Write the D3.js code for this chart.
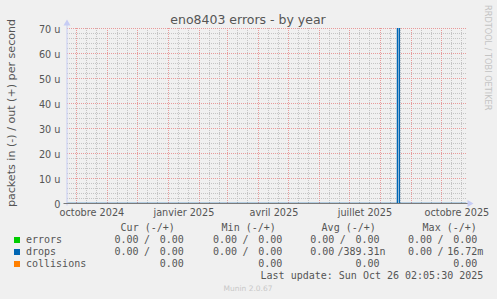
<!DOCTYPE html>
<html>
<head>
<meta charset="utf-8">
<script src="https://cdn.jsdelivr.net/npm/d3@7"></script>
<style>
  html, body { margin: 0; padding: 0; background: #f0f0f0; }
  svg { display: block; }
  text { font-family: "DejaVu Sans", sans-serif; fill: #555; }
  .mono { font-family: "DejaVu Sans Mono", monospace; font-size: 10px; white-space: pre; }
</style>
</head>
<body>
<script>
// ---------- data ----------
const title = "eno8403 errors - by year";
const yLabel = "packets in (-) / out (+) per second";
const endTime = "2025-10-26T02:05:30";
const spanDays = 400;

const yTicks = [0, 10e-6, 20e-6, 30e-6, 40e-6, 50e-6, 60e-6, 70e-6];
const xLabelMonths = ["2024-10-01", "2025-01-01", "2025-04-01", "2025-07-01", "2025-10-01"];
const xLabelTexts = ["octobre 2024", "janvier 2025", "avril 2025", "juillet 2025", "octobre 2025"];

// series samples (sparse: all other samples are zero)
const sampleDates   = ["2024-09-21", "2025-08-18", "2025-08-19", "2025-08-20", "2025-10-26"];
const errorsIn      = [0, 0, 0, 0, 0];
const errorsOut     = [0, 0, 0, 0, 0];
const dropsIn       = [0, 0, 0, 0, 0];
const dropsOut      = [0, 0, 16.72e-3, 0, 0];
const collisions    = [0, 0, 0, 0, 0];

const legendNames   = ["errors", "drops", "collisions"];
const legendColors  = ["#00cc00", "#0066b3", "#ff8000"];
const legendHeaders = ["Cur (-/+)", "Min (-/+)", "Avg (-/+)", "Max (-/+)"];
// [row][column] -> [in, out] ; collisions has a single value
const legendValues = [
  [["0.00", "0.00"], ["0.00", "0.00"], ["0.00", "0.00"], ["0.00", "0.00"]],
  [["0.00", "0.00"], ["0.00", "0.00"], ["0.00", "389.31n"], ["0.00", "16.72m"]],
  [[null, "0.00"], [null, "0.00"], [null, "0.00"], [null, "0.00"]]
];
const lastUpdate = "Last update: Sun Oct 26 02:05:30 2025";
const footer = "Munin 2.0.67";
const watermark = "RRDTOOL / TOBI OETIKER";

// ---------- layout ----------
const W = 497, H = 299;
const plotL = 66.5, plotR = 466.5, plotT = 28.5, plotB = 203.5;

const svg = d3.select("body").append("svg").attr("width", W).attr("height", H);
svg.append("rect").attr("width", W).attr("height", H).attr("fill", "#f0f0f0");

const parse = d3.timeParse("%Y-%m-%d");
const tEnd = d3.timeParse("%Y-%m-%dT%H:%M:%S")(endTime);
const tStart = d3.timeDay.offset(tEnd, -spanDays);

const x = d3.scaleTime().domain([tStart, tEnd]).range([plotL, plotR]);
const y = d3.scaleLinear().domain([0, 70e-6]).range([plotB, plotT]);
const crisp = v => Math.round(v - 0.5) + 0.5;

// ---------- grid ----------
const grid = svg.append("g").attr("shape-rendering", "crispEdges");
const minorCol = "#c4c4c4", majorCol = "#e89a9a";
const minorY = d3.range(0, 71, 2).map(v => v * 1e-6);
grid.selectAll(".hmin").data(minorY).join("line")
  .attr("x1", 67).attr("x2", 467)
  .attr("y1", d => crisp(y(d))).attr("y2", d => crisp(y(d)))
  .attr("stroke", minorCol).attr("stroke-dasharray", "1,1");
const months = d3.timeMonth.range(d3.timeMonth.floor(tStart), tEnd);
const minorX = [];
months.forEach(m => {
  [10, 20].forEach(o => { const d = d3.timeDay.offset(m, o); if (d > tStart && d < tEnd) minorX.push(d); });
});
grid.selectAll(".vmin").data(minorX).join("line")
  .attr("x1", d => crisp(x(d))).attr("x2", d => crisp(x(d)))
  .attr("y1", 28).attr("y2", 204)
  .attr("stroke", minorCol).attr("stroke-dasharray", "1,1");
grid.selectAll(".hmaj").data(yTicks).join("line")
  .attr("x1", 67).attr("x2", 467)
  .attr("y1", d => crisp(y(d))).attr("y2", d => crisp(y(d)))
  .attr("stroke", majorCol).attr("stroke-dasharray", "1,1");
const majorX = months.filter(d => d > tStart && d < tEnd);
grid.selectAll(".vmaj").data(majorX).join("line")
  .attr("x1", d => crisp(x(d))).attr("x2", d => crisp(x(d)))
  .attr("y1", 28).attr("y2", 204)
  .attr("stroke", majorCol).attr("stroke-dasharray", "1,1");

// ---------- series ----------
svg.append("defs").append("clipPath").attr("id", "clip")
  .append("rect").attr("x", plotL).attr("y", plotT - 0.5).attr("width", plotR - plotL).attr("height", plotB - plotT + 1);
const dates = sampleDates.map(parse);
// values far above the axis are cut (like rrdtool) a long way above the canvas
const line = d3.line().x(d => x(d[0])).y(d => Math.max(y(d[1]), -3000));
const seriesG = svg.append("g").attr("clip-path", "url(#clip)");
const seriesList = [
  [errorsIn.map(v => -v), legendColors[0], 1],
  [errorsOut, legendColors[0], 1],
  [dropsIn.map(v => -v), legendColors[1], 1],
  [collisions, legendColors[2], 1],
  [dropsOut, legendColors[1], 1.4]
];
seriesList.forEach(([vals, col, w]) => {
  seriesG.append("path")
    .attr("d", line(vals.map((v, i) => [dates[i], v])))
    .attr("fill", "none").attr("stroke", col).attr("stroke-width", w);
});

// ---------- axes ----------
const axisCol = "#c6ccf4";
svg.append("line").attr("x1", plotL + 0.5).attr("x2", plotL + 0.5).attr("y1", plotB + 2).attr("y2", plotT - 6)
  .attr("stroke", axisCol);
svg.append("path").attr("d", `M${plotL - 3},${plotT - 3} L${plotL + 4},${plotT - 3} L${plotL + 0.5},${plotT - 9} Z`)
  .attr("fill", axisCol);
svg.append("line").attr("x1", plotL - 3).attr("x2", plotR + 3).attr("y1", plotB).attr("y2", plotB)
  .attr("stroke", "#7a7a7a");
svg.append("path").attr("d", `M${plotR + 1},${plotB - 3.5} L${plotR + 1},${plotB + 3.5} L${plotR + 7},${plotB} Z`)
  .attr("fill", axisCol);

// y axis labels
const yAxis = d3.axisLeft(y).tickValues(yTicks).tickSize(0)
  .tickFormat(v => v === 0 ? "0" : `${Math.round(v * 1e6)} u`);
const yg = svg.append("g").attr("transform", `translate(${plotL},0)`).call(yAxis);
yg.select(".domain").remove();
yg.selectAll("text").attr("x", -6).attr("dy", "3.6")
  .style("font-family", "DejaVu Sans").style("font-size", "9.7px").attr("fill", "#555");

// x axis labels, centered half a month after the month start
const labelDates = xLabelMonths.map(s => d3.timeDay.offset(parse(s), 15));
const xAxis = d3.axisBottom(x).tickValues(labelDates).tickSize(0)
  .tickFormat((d, i) => xLabelTexts[i]);
const xg = svg.append("g").attr("transform", `translate(0,215.5)`).call(xAxis);
xg.select(".domain").remove();
xg.selectAll("text").attr("y", 0).attr("dy", 0)
  .style("font-family", "DejaVu Sans").style("font-size", "9.7px").attr("fill", "#555");

// ---------- titles ----------
svg.append("text").attr("x", 248).attr("y", 24).attr("text-anchor", "middle")
  .style("font-size", "12.5px").text(title);
svg.append("text").attr("transform", "translate(14.5,113) rotate(-90)").attr("text-anchor", "middle")
  .style("font-size", "11.1px").text(yLabel);
svg.append("text").attr("transform", "translate(485,5) rotate(90)")
  .style("font-size", "8.2px").style("fill", "#c4c4c4").text(watermark);

// ---------- legend ----------
const cw = 6.02;
const colLeft = [114.5, 213, 310.3, 408];
const headerX = [120.6, 221.6, 321.6, 422.6];
const rowY = [243, 255, 267];
const lg = svg.append("g");
legendHeaders.forEach((h, i) => lg.append("text").attr("class", "mono").attr("x", headerX[i]).attr("y", 231).text(h));
legendNames.forEach((n, r) => {
  lg.append("rect").attr("x", 14).attr("y", rowY[r] - 6).attr("width", 6).attr("height", 6).attr("fill", legendColors[r]);
  lg.append("text").attr("class", "mono").attr("x", 26).attr("y", rowY[r]).text(n);
  legendValues[r].forEach((pair, c) => {
    const left = colLeft[c];
    const end = left + 75.3 - cw;
    const m = pair[1].match(/^([-0-9.]+)(.*)$/);
    const rightX = end - m[1].length * cw;
    const t = lg.append("text").attr("class", "mono").attr("y", rowY[r]);
    if (pair[0] !== null) {
      t.append("tspan").attr("x", left).text(pair[0]);
      t.append("tspan").attr("x", Math.min(left + 29.5, rightX - cw)).text("/");
    }
    t.append("tspan").attr("x", rightX).text(pair[1]);
  });
});
lg.append("text").attr("class", "mono").attr("x", 483.3).attr("y", 279).attr("text-anchor", "end").text(lastUpdate);
svg.append("text").attr("x", 248).attr("y", 291).attr("text-anchor", "middle")
  .style("font-size", "7.5px").style("fill", "#c8c8c8").text(footer);
</script>
</body>
</html>
